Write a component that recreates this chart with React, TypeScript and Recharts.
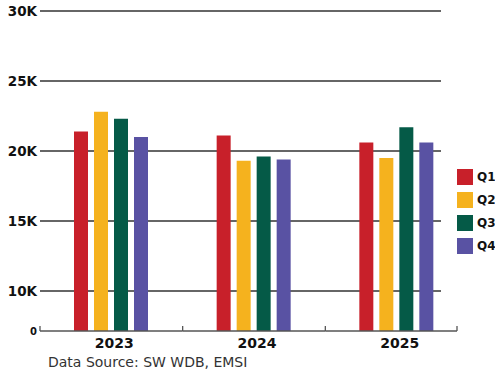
import { BarChart, Bar, XAxis, YAxis, CartesianGrid } from 'recharts';

// Quarterly totals by year
const years = ['2023', '2024', '2025'];
const q1 = [21400, 21100, 20600];
const q2 = [22800, 19300, 19500];
const q3 = [22300, 19600, 21700];
const q4 = [21000, 19400, 20600];

const yTicks = [10000, 15000, 20000, 25000, 30000];
// The value axis is broken below 10K: "0" sits a short step under the 10K line
const AXIS_FLOOR = 7142.857;

const series = [
  { key: 'q1', name: 'Q1', color: '#C8202A' },
  { key: 'q2', name: 'Q2', color: '#F5B21E' },
  { key: 'q3', name: 'Q3', color: '#055A47' },
  { key: 'q4', name: 'Q4', color: '#5952A3' },
];

const data = years.map((year, i) => ({ year, q1: q1[i], q2: q2[i], q3: q3[i], q4: q4[i] }));

const W = 495;
const H = 375;
const PLOT_LEFT = 40;
const PLOT_RIGHT = 468;
const HALF_BAND = (PLOT_RIGHT - PLOT_LEFT) / years.length / 2;
const AXIS_TRIM = 11; // the baseline stops a little before the last band ends
const FONT = '"DejaVu Sans", sans-serif';
const AXIS_STROKE = '#555';

const YTick = (props: any) => {
  const { x, y, payload } = props;
  const isFloor = payload.value < 10000;
  return (
    <text
      x={x}
      y={y}
      dy={isFloor ? 4 : 5}
      textAnchor="end"
      fontFamily={FONT}
      fontWeight="bold"
      fontSize={isFloor ? 10 : 13.5}
      fill="#111"
    >
      {isFloor ? '0' : `${payload.value / 1000}K`}
    </text>
  );
};

// each category draws its own piece of the baseline plus a divider tick at its left edge
const XTick = (props: any) => {
  const { x, y, payload, index } = props;
  const last = index === years.length - 1;
  const left = x - HALF_BAND;
  const right = last ? x + HALF_BAND - AXIS_TRIM : x + HALF_BAND;
  return (
    <g>
      <line x1={left} x2={right} y1={y} y2={y} stroke={AXIS_STROKE} strokeWidth={1.3} />
      <line x1={left} x2={left} y1={y - 5} y2={y} stroke={AXIS_STROKE} strokeWidth={1.3} />
      {last && <line x1={right} x2={right} y1={y - 5} y2={y} stroke={AXIS_STROKE} strokeWidth={1.3} />}
      <text x={x + 3} y={y + 17} textAnchor="middle" fontFamily={FONT} fontWeight="bold" fontSize={14} fill="#111">
        {payload.value}
      </text>
    </g>
  );
};

// gridlines stop short of the legend; the floor line comes from the x axis ticks
const GridLine = (props: any) => {
  const { x1, x2, y1, y2 } = props;
  if (y1 > 325) return null;
  return <line x1={x1} x2={x2 - 27} y1={y1} y2={y2} stroke="#333" strokeWidth={1.3} />;
};

const LegendBox = () => (
  <div style={{ position: 'absolute', left: 457, top: 169, display: 'flex', flexDirection: 'column', gap: 7 }}>
    {series.map((s) => (
      <div key={s.key} style={{ display: 'flex', alignItems: 'center', height: 16 }}>
        <div style={{ width: 16, height: 16, background: s.color }} />
        <span style={{ marginLeft: 4, fontFamily: FONT, fontWeight: 'bold', fontSize: 12, color: '#111' }}>
          {s.name}
        </span>
      </div>
    ))}
  </div>
);

export default function App() {
  return (
    <div style={{ position: 'absolute', left: 0, top: 0, width: W, height: H, background: '#fff' }}>
      <BarChart
        width={W}
        height={H}
        data={data}
        margin={{ top: 11, right: W - PLOT_RIGHT, bottom: 0, left: 0 }}
        barSize={14}
        barGap={6}
      >
        <CartesianGrid vertical={false} horizontal={GridLine} />
        <XAxis
          dataKey="year"
          height={44}
          axisLine={false}
          tickLine={false}
          tickSize={0}
          tickMargin={0}
          tick={XTick}
          interval={0}
        />
        <YAxis
          width={PLOT_LEFT}
          domain={[AXIS_FLOOR, 30000]}
          ticks={[AXIS_FLOOR, ...yTicks]}
          allowDataOverflow
          axisLine={false}
          tickLine={false}
          tickSize={0}
          tickMargin={3}
          tick={YTick}
        />
        {series.map((s) => (
          <Bar key={s.key} dataKey={s.key} name={s.name} fill={s.color} isAnimationActive={false} />
        ))}
      </BarChart>
      <LegendBox />
      <div
        style={{
          position: 'absolute',
          left: 48,
          top: 354,
          fontFamily: FONT,
          fontSize: 14,
          color: '#333',
          whiteSpace: 'nowrap',
        }}
      >
        Data Source: SW WDB, EMSI
      </div>
    </div>
  );
}
